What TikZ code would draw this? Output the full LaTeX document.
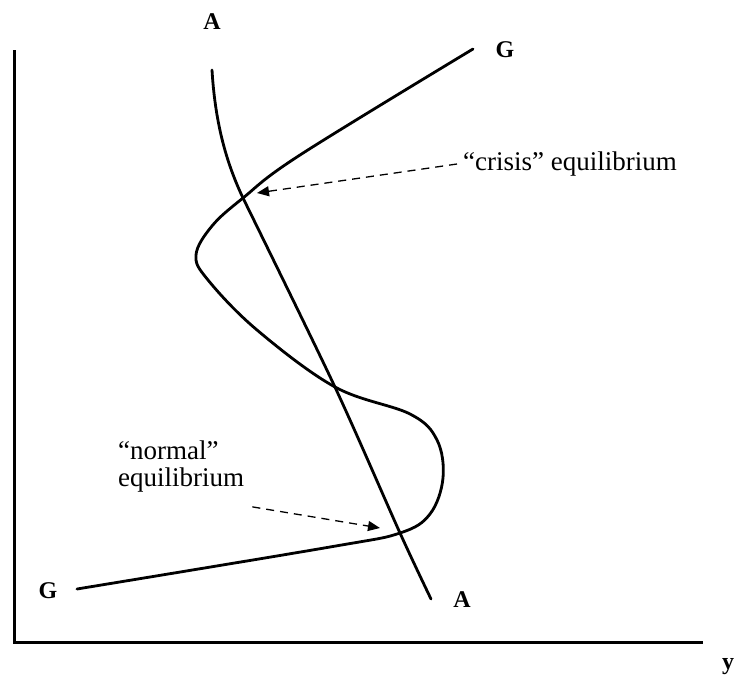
\documentclass[tikz,border=0pt]{standalone}
\usepackage{fontspec}
\setmainfont{Liberation Serif}
\usetikzlibrary{arrows.meta}
\begin{document}
\begin{tikzpicture}[x=1pt,y=-1pt,
  axis/.style={line width=3pt},
  curve/.style={line width=2.8pt, line join=round, line cap=round},
  lab/.style={font=\fontsize{24}{26}\selectfont\bfseries, inner sep=0pt},
  note/.style={font=\fontsize{27}{27}\selectfont, inner sep=0pt, align=left},
  pointer/.style={dashed, line width=1.3pt, dash pattern=on 8pt off 6pt,
    -{Triangle[length=12pt,width=10pt]}}]
\useasboundingbox (0,0) rectangle (737,683);
% axes
\coordinate (o) at (14,642);
\coordinate (ytop) at (14,50);
\coordinate (xend) at (703,642);
\draw[axis] (ytop) -- (o) -- (xend);
\node[lab] (ylab) at (728,667) {y};
% A curve
\draw[curve] (212,70) .. controls (215,120) and (225,160) .. (243,198)
  plot[smooth, tension=0.5] coordinates {(243,198) (334,385) (400,533) (431,599)};
% G curve
\draw[curve] plot[smooth, tension=0.6] coordinates {
  (77,589) (330,547) (400,533) (430,514) (443,478)
  (437,440) (410,414) (335,387) (257,330) (208,280) (196,255)
  (212,226) (243,198) (300,155) (473,49)};
% labels
\node[lab] (Atop) at (212,22) {A};
\node[lab] (Abot) at (462,600) {A};
\node[lab] (Gtop) at (505,50) {G};
\node[lab] (Gbot) at (48,591) {G};
% equilibria
\coordinate (crisisTip) at (257,193);
\coordinate (normalTip) at (380,528);
\node[note, anchor=west] (crisis) at (463,164) {“crisis” equilibrium};
\node[note, anchor=north west] (normal) at (118,441) {“normal”\\equilibrium};
\draw[pointer] ([xshift=-6pt]crisis.west) -- (crisisTip);
\draw[pointer] ([xshift=8pt,yshift=-14pt]normal.south east) -- (normalTip);
\end{tikzpicture}
\end{document}
